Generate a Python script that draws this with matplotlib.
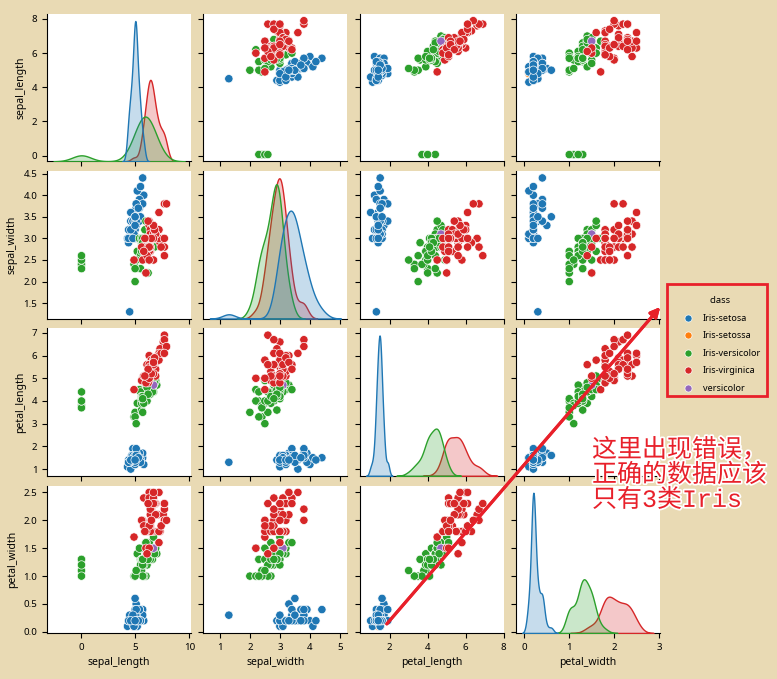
import matplotlib
matplotlib.use("Agg")
import matplotlib.pyplot as plt
import matplotlib.patheffects as pe
from matplotlib.patches import Rectangle
import pandas as pd
import seaborn as sns

# iris 数据（含错误：拼写错误的类别、单位错误的 sepal_length、异常的 sepal_width）
sepal_length = [5.1, 4.9, 4.7, 4.6, 5.0, 5.4, 4.6, 5.0, 4.4, 4.9, 5.4, 4.8, 4.8, 4.3, 5.8, 5.7, 5.4, 5.1, 5.7, 5.1,
                5.4, 5.1, 4.6, 5.1, 4.8, 5.0, 5.0, 5.2, 5.2, 4.7, 4.8, 5.4, 5.2, 5.5, 4.9, 5.0, 5.5, 4.9, 4.4, 5.1,
                5.0, 4.5, 4.4, 5.0, 5.1, 4.8, 5.1, 4.6, 5.3, 5.0,
                7.0, 6.4, 6.9, 5.5, 6.5, 5.7, 6.3, 4.9, 6.6, 5.2, 5.0, 5.9, 6.0, 6.1, 5.6, 6.7, 5.6, 5.8, 6.2, 5.6,
                5.9, 6.1, 6.3, 6.1, 6.4, 6.6, 6.8, 6.7, 6.0, 5.7, 0.055, 0.055, 5.8, 6.0, 5.4, 6.0, 6.7, 0.063, 5.6, 0.055,
                5.5, 6.1, 0.058, 5.0, 5.6, 5.7, 5.7, 6.2, 5.1, 5.7,
                6.3, 5.8, 7.1, 6.3, 6.5, 7.6, 4.9, 7.3, 6.7, 7.2, 6.5, 6.4, 6.8, 5.7, 5.8, 6.4, 6.5, 7.7, 7.7, 6.0,
                6.9, 5.6, 7.7, 6.3, 6.7, 7.2, 6.2, 6.1, 6.4, 7.2, 7.4, 7.9, 6.4, 6.3, 6.1, 7.7, 6.3, 6.4, 6.0, 6.9,
                6.7, 6.9, 5.8, 6.8, 6.7, 6.7, 6.3, 6.5, 6.2, 5.9]
sepal_width = [3.5, 3.0, 3.2, 3.1, 3.6, 3.9, 3.4, 3.4, 2.9, 3.1, 3.7, 3.4, 3.0, 3.0, 4.0, 4.4, 3.9, 3.5, 3.8, 3.8,
               3.4, 3.7, 3.6, 3.3, 3.4, 3.0, 3.4, 3.5, 3.4, 3.2, 3.1, 3.4, 4.1, 4.2, 3.1, 3.2, 3.5, 3.1, 3.0, 3.4,
               3.5, 1.3, 3.2, 3.5, 3.8, 3.0, 3.8, 3.2, 3.7, 3.3,
               3.2, 3.2, 3.1, 2.3, 2.8, 2.8, 3.3, 2.4, 2.9, 2.7, 2.0, 3.0, 2.2, 2.9, 2.9, 3.1, 3.0, 2.7, 2.2, 2.5,
               3.2, 2.8, 2.5, 2.8, 2.9, 3.0, 2.8, 3.0, 2.9, 2.6, 2.4, 2.4, 2.7, 2.7, 3.0, 3.4, 3.1, 2.3, 3.0, 2.5,
               2.6, 3.0, 2.6, 2.3, 2.7, 3.0, 2.9, 2.9, 2.5, 2.8,
               3.3, 2.7, 3.0, 2.9, 3.0, 3.0, 2.5, 2.9, 2.5, 3.6, 3.2, 2.7, 3.0, 2.5, 2.8, 3.2, 3.0, 3.8, 2.6, 2.2,
               3.2, 2.8, 2.8, 2.7, 3.3, 3.2, 2.8, 3.0, 2.8, 3.0, 2.8, 3.8, 2.8, 2.8, 2.6, 3.0, 3.4, 3.1, 3.0, 3.1,
               3.1, 3.1, 2.7, 3.2, 3.3, 3.0, 2.5, 3.0, 3.4, 3.0]
petal_length = [1.4, 1.4, 1.3, 1.5, 1.4, 1.7, 1.4, 1.5, 1.4, 1.5, 1.5, 1.6, 1.4, 1.1, 1.2, 1.5, 1.3, 1.4, 1.7, 1.5,
                1.7, 1.5, 1.0, 1.7, 1.9, 1.6, 1.6, 1.5, 1.4, 1.6, 1.6, 1.5, 1.5, 1.4, 1.5, 1.2, 1.3, 1.5, 1.3, 1.5,
                1.3, 1.3, 1.3, 1.6, 1.9, 1.4, 1.6, 1.4, 1.5, 1.4,
                4.7, 4.5, 4.9, 4.0, 4.6, 4.5, 4.7, 3.3, 4.6, 3.9, 3.5, 4.2, 4.0, 4.7, 3.6, 4.4, 4.5, 4.1, 4.5, 3.9,
                4.8, 4.0, 4.9, 4.7, 4.3, 4.4, 4.8, 5.0, 4.5, 3.5, 3.8, 3.7, 3.9, 5.1, 4.5, 4.5, 4.7, 4.4, 4.1, 4.0,
                4.4, 4.6, 4.0, 3.3, 4.2, 4.2, 4.2, 4.3, 3.0, 4.1,
                6.0, 5.1, 5.9, 5.6, 5.8, 6.6, 4.5, 6.3, 5.8, 6.1, 5.1, 5.3, 5.5, 5.0, 5.1, 5.3, 5.5, 6.7, 6.9, 5.0,
                5.7, 4.9, 6.7, 4.9, 5.7, 6.0, 4.8, 4.9, 5.6, 5.8, 6.1, 6.4, 5.6, 5.1, 5.6, 6.1, 5.6, 5.5, 4.8, 5.4,
                5.6, 5.1, 5.1, 5.9, 5.7, 5.2, 5.0, 5.2, 5.4, 5.1]
petal_width = [0.2, 0.2, 0.2, 0.2, 0.2, 0.4, 0.3, 0.2, 0.2, 0.1, 0.2, 0.2, 0.1, 0.1, 0.2, 0.4, 0.4, 0.3, 0.3, 0.3,
               0.2, 0.4, 0.2, 0.5, 0.2, 0.2, 0.4, 0.2, 0.2, 0.2, 0.2, 0.4, 0.1, 0.2, 0.1, 0.2, 0.2, 0.1, 0.2, 0.2,
               0.3, 0.3, 0.2, 0.6, 0.4, 0.3, 0.2, 0.2, 0.2, 0.2,
               1.4, 1.5, 1.5, 1.3, 1.5, 1.3, 1.6, 1.0, 1.3, 1.4, 1.0, 1.5, 1.0, 1.4, 1.3, 1.4, 1.5, 1.0, 1.5, 1.1,
               1.8, 1.3, 1.5, 1.2, 1.3, 1.4, 1.4, 1.7, 1.5, 1.0, 1.1, 1.0, 1.2, 1.6, 1.5, 1.6, 1.5, 1.3, 1.3, 1.3,
               1.2, 1.4, 1.2, 1.0, 1.3, 1.2, 1.3, 1.3, 1.1, 1.3,
               2.5, 1.9, 2.1, 1.8, 2.2, 2.1, 1.7, 1.8, 1.8, 2.5, 2.0, 1.9, 2.1, 2.0, 2.4, 2.3, 1.8, 2.2, 2.3, 1.5,
               2.3, 2.0, 2.0, 1.8, 2.1, 1.8, 1.8, 1.8, 2.1, 1.6, 1.9, 2.0, 2.2, 1.5, 1.4, 2.3, 2.4, 1.8, 1.8, 2.1,
               2.4, 2.3, 1.9, 2.3, 2.5, 2.3, 1.9, 2.0, 2.3, 1.8]
classes = (["Iris-setosa"] * 12 + ["Iris-setossa"] + ["Iris-setosa"] * 37
           + ["Iris-versicolor"] * 36 + ["versicolor"] + ["Iris-versicolor"] * 13
           + ["Iris-virginica"] * 50)
class_order = ["Iris-setosa", "Iris-setossa", "Iris-versicolor", "Iris-virginica", "versicolor"]
sepal_width_ticks = [1, 2, 3, 4, 5]

bg = "#e9dab4"
red = "#e8202a"
plt.rcParams["figure.facecolor"] = bg
plt.rcParams["font.family"] = ["Noto Sans", "DejaVu Sans"]
plt.rcParams["font.size"] = 7
plt.rcParams["xtick.labelsize"] = 7
plt.rcParams["ytick.labelsize"] = 7
plt.rcParams["axes.labelsize"] = 7.5

df = pd.DataFrame({"sepal_length": sepal_length, "sepal_width": sepal_width,
                   "petal_length": petal_length, "petal_width": petal_width,
                   "class": classes})

g = sns.pairplot(df, hue="class", hue_order=class_order, height=1.5)
fig = g.figure
fig.set_size_inches(7.77, 6.79)
fig.subplots_adjust(left=47 / 777, right=660 / 777, top=1 - 14 / 679, bottom=1 - 633 / 679,
                    wspace=12 / 144, hspace=10 / 148)
g.axes[3, 1].set_xticks(sepal_width_ticks)

sns.move_legend(g, "upper left", bbox_to_anchor=(671 / 777, 1 - 288 / 679), frameon=False,
                title="class", fontsize=6.5, title_fontsize=6.7, labelspacing=0.95,
                handletextpad=0.6, markerscale=0.85)

# 红框和箭头
fig.patches.append(Rectangle((667 / 777, 1 - 396 / 679), 100 / 777, 112 / 679,
                             transform=fig.transFigure, fill=False, edgecolor=red, linewidth=2))
fig.add_artist(plt.annotate("", xy=(662 / 777, 1 - 305 / 679), xytext=(385 / 777, 1 - 626 / 679),
                            xycoords="figure fraction", textcoords="figure fraction",
                            arrowprops=dict(arrowstyle="-|>", color=red, lw=2.2,
                                            mutation_scale=14)))

fig.text(592 / 777, 1 - 438 / 679, "这里出现错误，\n正确的数据应该\n只有3类Iris",
         family=["Liberation Mono", "Noto Sans CJK SC"], fontsize=18, color=red,
         va="top", ha="left", linespacing=1.05,
         path_effects=[pe.withStroke(linewidth=2.5, foreground="white")])

fig.savefig("out.png", dpi=100, facecolor=bg)
